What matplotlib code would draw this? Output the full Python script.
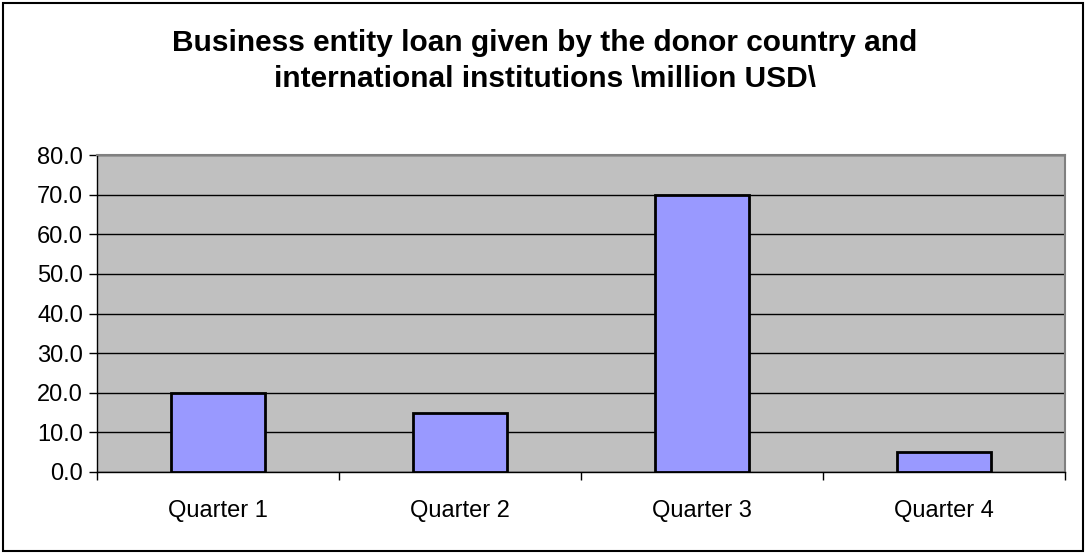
import matplotlib.pyplot as plt
from matplotlib.patches import Rectangle

# --- DATA ---
quarters = ['Quarter 1', 'Quarter 2', 'Quarter 3', 'Quarter 4']
loan_values = [20.0, 15.0, 70.0, 5.0]
y_ticks = [0, 10, 20, 30, 40, 50, 60, 70, 80]

plt.rcParams['font.family'] = ['Liberation Sans', 'DejaVu Sans']

fig = plt.figure(figsize=(10.87, 5.53), dpi=100)
ax = fig.add_axes([97 / 1087, 81 / 553, 968 / 1087, 317 / 553])
ax.set_facecolor('#C0C0C0')

x = list(range(len(quarters)))
ax.bar(x, loan_values, width=0.39, color='#9999FF', edgecolor='black', linewidth=2, zorder=3)

ax.set_xlim(-0.5, len(quarters) - 0.5)
ax.set_ylim(0, 80)
ax.set_yticks(y_ticks)
ax.set_yticklabels([f'{v:.1f}' for v in y_ticks], fontsize=17)
ax.yaxis.grid(True, color='black', linewidth=1, zorder=1)
ax.set_axisbelow(True)

# category labels at centers, ticks at the boundaries
ax.set_xticks(x)
ax.set_xticklabels(quarters, fontsize=17)
ax.tick_params(axis='x', length=0, pad=20)
ax.set_xticks([i - 0.5 for i in range(len(quarters) + 1)], minor=True)
ax.tick_params(axis='x', which='minor', length=6, width=1, direction='out')
ax.tick_params(axis='y', length=6, width=1, direction='out', pad=4)

for side in ['top', 'right']:
    ax.spines[side].set_color('#808080')
    ax.spines[side].set_linewidth(1.5)
for side in ['left', 'bottom']:
    ax.spines[side].set_color('black')
    ax.spines[side].set_linewidth(1)

fig.text(545 / 1087, 1 - 61 / 553,
         'Business entity loan given by the donor country and\ninternational institutions \\million USD\\',
         ha='center', va='center', fontsize=21.5, fontweight='bold', linespacing=1.4)

# outer chart border
fig.patches.append(Rectangle((3 / 1087, 2 / 553), 1080 / 1087, 548 / 553,
                             transform=fig.transFigure, fill=False,
                             edgecolor='black', linewidth=1.5))

plt.savefig('out.png', dpi=100)
